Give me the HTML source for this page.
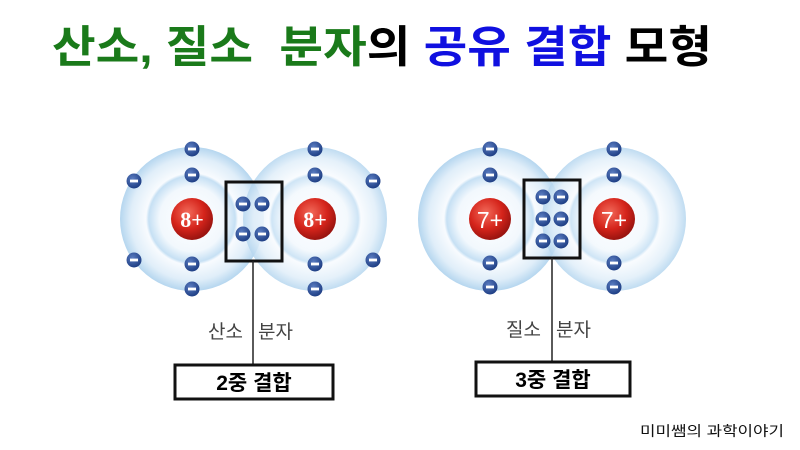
<!DOCTYPE html>
<html><head><meta charset="utf-8"><style>
html,body{margin:0;padding:0;background:#fff;width:800px;height:450px;overflow:hidden}
svg{display:block}
text{font-family:"Liberation Sans","Noto Sans CJK KR","NanumGothic",sans-serif}
</style></head><body>
<svg width="800" height="450" viewBox="0 0 800 450" xmlns="http://www.w3.org/2000/svg">
<defs>
<radialGradient id="shell" cx="50%" cy="50%" r="50%">
<stop offset="0" stop-color="#ffffff"/>
<stop offset="0.45" stop-color="#f2f8fd"/>
<stop offset="0.6" stop-color="#c6e0f4"/>
<stop offset="0.64" stop-color="#f8fbfe"/>
<stop offset="0.85" stop-color="#e0eef9"/>
<stop offset="1" stop-color="#b5d6ef"/>
</radialGradient>
<radialGradient id="nuc" cx="40%" cy="35%" r="65%">
<stop offset="0" stop-color="#f26a5a"/>
<stop offset="0.6" stop-color="#d5241b"/>
<stop offset="1" stop-color="#9a1410"/>
</radialGradient>
<radialGradient id="el" cx="40%" cy="35%" r="65%">
<stop offset="0" stop-color="#5a7cc0"/>
<stop offset="1" stop-color="#1f3f85"/>
</radialGradient>
<g id="e"><circle r="7.5" fill="url(#el)"/><rect x="-4" y="-1.4" width="8" height="2.8" fill="#fff"/></g>
</defs>

<text x="52" y="62" font-size="44" font-weight="bold" textLength="660" lengthAdjust="spacingAndGlyphs"><tspan fill="#1a7a1a">산소, 질소&#160;&#160;분자</tspan><tspan fill="#000">의 </tspan><tspan fill="#1010e0">공유 결합 </tspan><tspan fill="#000">모형</tspan></text>

<!-- Oxygen -->
<circle cx="192" cy="219" r="72" fill="url(#shell)"/>
<circle cx="315" cy="219" r="72" fill="url(#shell)" opacity="0.85"/>
<circle cx="192" cy="219" r="21" fill="url(#nuc)"/>
<circle cx="315" cy="219" r="21" fill="url(#nuc)"/>
<text x="192" y="227" font-size="22" font-weight="bold" fill="#fff" text-anchor="middle" style="font-family:'Liberation Serif',serif">8+</text>
<text x="315" y="227" font-size="22" font-weight="bold" fill="#fff" text-anchor="middle" style="font-family:'Liberation Serif',serif">8+</text>
<use href="#e" x="192" y="149"/><use href="#e" x="192" y="175"/><use href="#e" x="134" y="181"/><use href="#e" x="134" y="260"/><use href="#e" x="192" y="264"/><use href="#e" x="192" y="289"/>
<use href="#e" x="315" y="149"/><use href="#e" x="315" y="175"/><use href="#e" x="373" y="181"/><use href="#e" x="373" y="260"/><use href="#e" x="315" y="264"/><use href="#e" x="315" y="289"/>
<use href="#e" x="243" y="204"/><use href="#e" x="262" y="204"/><use href="#e" x="243" y="234"/><use href="#e" x="262" y="234"/>
<rect x="226" y="182" width="56" height="79" fill="none" stroke="#111" stroke-width="3"/>
<line x1="253" y1="261" x2="253" y2="365" stroke="#222" stroke-width="1.5"/>
<text x="208" y="338" font-size="19" fill="#444">산소</text>
<text x="258" y="338" font-size="19" fill="#444">분자</text>
<rect x="175" y="365" width="158" height="34" fill="#fff" stroke="#111" stroke-width="3"/>
<text x="254" y="390" font-size="21" font-weight="bold" text-anchor="middle">2중 결합</text>

<!-- Nitrogen -->
<circle cx="490" cy="219" r="72" fill="url(#shell)"/>
<circle cx="614" cy="219" r="72" fill="url(#shell)" opacity="0.85"/>
<circle cx="490" cy="219" r="21" fill="url(#nuc)"/>
<circle cx="614" cy="219" r="21" fill="url(#nuc)"/>
<text x="490" y="228" font-size="23" fill="#fff" text-anchor="middle">7+</text>
<text x="614" y="228" font-size="23" fill="#fff" text-anchor="middle">7+</text>
<use href="#e" x="490" y="149"/><use href="#e" x="490" y="175"/><use href="#e" x="490" y="263"/><use href="#e" x="490" y="287"/>
<use href="#e" x="614" y="149"/><use href="#e" x="614" y="175"/><use href="#e" x="614" y="263"/><use href="#e" x="614" y="287"/>
<use href="#e" x="543" y="197"/><use href="#e" x="561" y="197"/><use href="#e" x="543" y="219"/><use href="#e" x="561" y="219"/><use href="#e" x="543" y="241"/><use href="#e" x="561" y="241"/>
<rect x="524" y="180" width="56" height="78" fill="none" stroke="#111" stroke-width="3"/>
<line x1="552" y1="258" x2="552" y2="362" stroke="#222" stroke-width="1.5"/>
<text x="506" y="336" font-size="19" fill="#444">질소</text>
<text x="556" y="336" font-size="19" fill="#444">분자</text>
<rect x="476" y="362" width="154" height="34" fill="#fff" stroke="#111" stroke-width="3"/>
<text x="553" y="387" font-size="21" font-weight="bold" text-anchor="middle">3중 결합</text>

<text x="640" y="436" font-size="14" fill="#111" textLength="144" lengthAdjust="spacingAndGlyphs">미미쌤의 과학이야기</text>
</svg>
</body></html>
